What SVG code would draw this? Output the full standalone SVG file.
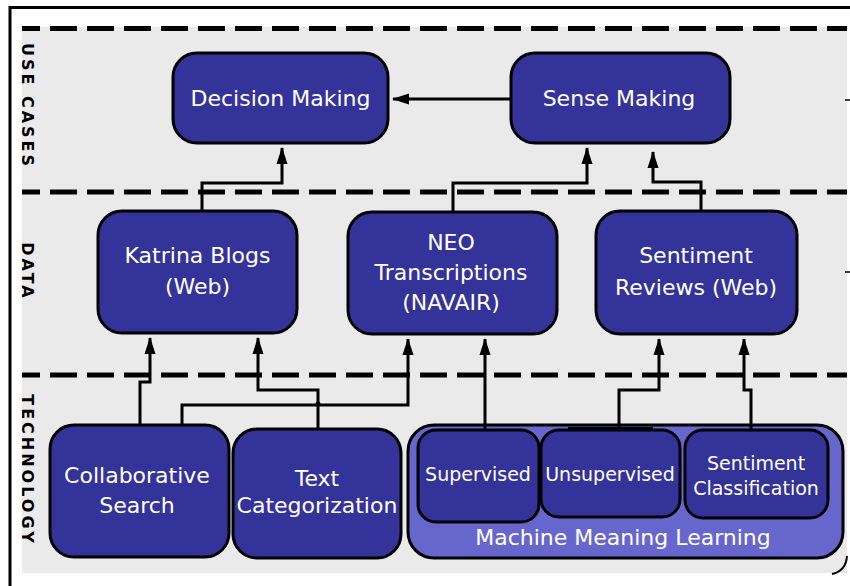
<svg xmlns="http://www.w3.org/2000/svg" width="850" height="586" viewBox="0 0 850 586">
<defs>
<marker id="ah" markerUnits="userSpaceOnUse" viewBox="0 0 17 12" markerWidth="17" markerHeight="12" refX="16" refY="6" orient="auto">
<path d="M0,0.5 L17,6 L0,11.5 z" fill="#000"/>
</marker>
<style>
.lane{fill:none;stroke:#000;stroke-width:5;stroke-dasharray:27 10;stroke-dashoffset:9}
.node{fill:#333399;stroke:#000;stroke-width:3}
.grp{fill:#6666cc;stroke:#000;stroke-width:3}
.t{font-family:"DejaVu Sans","Verdana",sans-serif;font-size:22px;fill:#fff;text-anchor:middle}
.ts{font-size:19px}
.lbl{font-family:"DejaVu Sans",sans-serif;font-weight:bold;font-size:16px;letter-spacing:3px;fill:#000;text-anchor:middle}
.c{fill:none;stroke:#000;stroke-width:3}
.ca{fill:none;stroke:#000;stroke-width:3;marker-end:url(#ah)}
</style>
</defs>
<rect width="850" height="586" fill="#fff"/>
<path d="M10,586 V7.5 H850" fill="none" stroke="#000" stroke-width="3"/>
<rect x="22" y="27" width="825" height="546" fill="#eaeaea"/>
<path d="M847,556 Q846,571 832,574" fill="none" stroke="#000" stroke-width="2"/>
<path d="M845,100 H850 M845,272 H850" stroke="#000" stroke-width="1.5"/>
<g id="lanes">
<line class="lane" x1="22" y1="28.5" x2="847" y2="28.5"/>
<line class="lane" x1="22" y1="192" x2="847" y2="192"/>
<line class="lane" x1="22" y1="375" x2="847" y2="375"/>
<text class="lbl" transform="translate(22,106) rotate(90)">USE CASES</text>
<text class="lbl" transform="translate(22,271.5) rotate(90)">DATA</text>
<text class="lbl" transform="translate(22,470) rotate(90)">TECHNOLOGY</text>
</g>
<g id="decision-making">
<rect class="node" x="173" y="53" width="215" height="90" rx="24"/>
<text class="t" x="280.5" y="106">Decision Making</text>
</g>
<g id="sense-making">
<rect class="node" x="511" y="53" width="219" height="90" rx="24"/>
<text class="t" x="619" y="106">Sense Making</text>
</g>
<g id="katrina-blogs">
<rect class="node" x="98" y="211" width="199" height="122" rx="24"/>
<text class="t" x="197.5" y="263">Katrina Blogs</text>
<text class="t" x="197.5" y="294">(Web)</text>
</g>
<g id="neo-transcriptions">
<rect class="node" x="348" y="212" width="209" height="122" rx="24"/>
<text class="t" x="451" y="250">NEO</text>
<text class="t" x="451" y="280">Transcriptions</text>
<text class="t" x="451" y="310">(NAVAIR)</text>
</g>
<g id="sentiment-reviews">
<rect class="node" x="596" y="211" width="201" height="123" rx="24"/>
<text class="t" x="696" y="263">Sentiment</text>
<text class="t" x="696" y="295">Reviews (Web)</text>
</g>
<g id="collaborative-search">
<rect class="node" x="50" y="425" width="179" height="132" rx="24"/>
<text class="t" x="137" y="483">Collaborative</text>
<text class="t" x="137" y="513">Search</text>
</g>
<g id="text-categorization">
<rect class="node" x="233" y="429" width="168" height="129" rx="24"/>
<text class="t" x="317" y="486">Text</text>
<text class="t" x="317" y="513">Categorization</text>
</g>
<g id="machine-meaning-learning">
<rect class="grp" x="408" y="425" width="435" height="133" rx="26"/>
<text class="t" x="623" y="545">Machine Meaning Learning</text>
</g>
<g id="supervised">
<rect class="node" x="418" y="430" width="121" height="92" rx="18"/>
<text class="t ts" x="478" y="481">Supervised</text>
</g>
<g id="unsupervised">
<rect class="node" x="541" y="430" width="139" height="87" rx="18"/>
<text class="t ts" x="610" y="481">Unsupervised</text>
</g>
<g id="sentiment-classification">
<rect class="node" x="685" y="430" width="143" height="88" rx="18"/>
<text class="t ts" x="756" y="470">Sentiment</text>
<text class="t ts" x="756" y="495">Classification</text>
</g>
<g id="connectors">
<path class="ca" d="M202,211 V183 H282 V148"/>
<path class="ca" d="M453,212 V183 H587 V148"/>
<path class="ca" d="M701,211 V182 H653 V152"/>
<path class="ca" d="M511,99 H393"/>
<path class="ca" d="M140,425 V382 H150 V338"/>
<path class="ca" d="M318,429 V390 H258 V338"/>
<path class="ca" d="M182,425 V405 H408 V339"/>
<path class="ca" d="M485,430 V339"/>
<path class="ca" d="M619,428 V390 H659 V339"/>
<path class="ca" d="M751,430 V390 H744 V339"/>
<path class="c" d="M568,428.5 H653" stroke-width="4"/>
<circle cx="318" cy="404" r="2.5" fill="#000"/>
</g>
</svg>
